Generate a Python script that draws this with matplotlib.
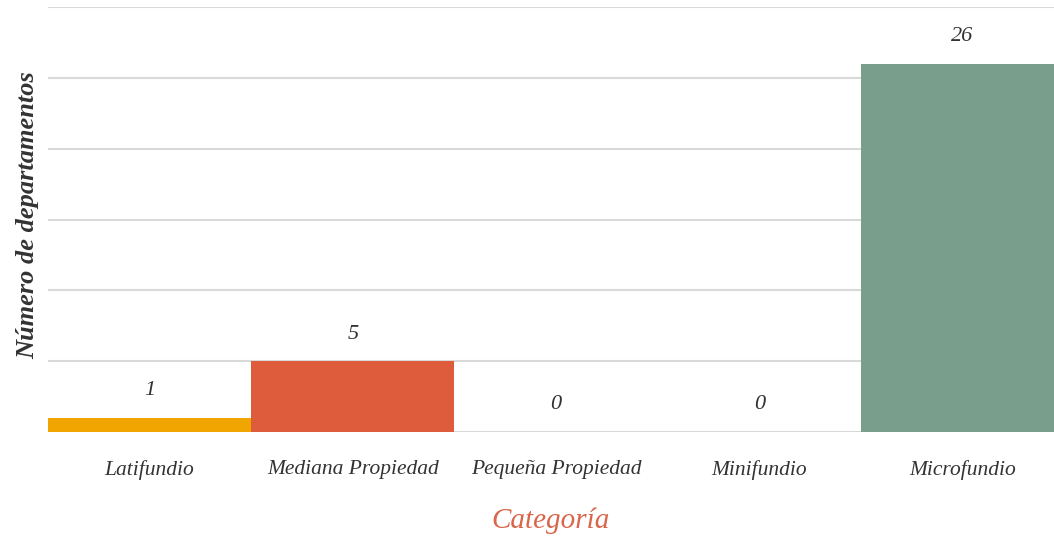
import matplotlib.pyplot as plt

categorias = ["Latifundio", "Mediana Propiedad", "Pequeña Propiedad", "Minifundio", "Microfundio"]
departamentos = [1, 5, 0, 0, 26]
colores = ["#F0A500", "#DE5B3B", "#E0E0E0", "#E0E0E0", "#7A9E8C"]

plt.rcParams["font.family"] = ["Liberation Serif", "DejaVu Serif"]

fig = plt.figure(figsize=(10.54, 5.40), dpi=100)
ax = fig.add_axes([48 / 1054, 1 - 432 / 540, 1006 / 1054, 425 / 540])

x = list(range(len(categorias)))
bars = ax.bar(x, departamentos, width=1.0, color=colores, zorder=2)

for xi, v in zip(x, departamentos):
    ax.annotate(str(v), (xi, v), xytext=(0, 19.5), textcoords="offset points",
                ha="center", va="center", fontsize=16, fontstyle="italic",
                color="#333333")

ax.set_xlim(-0.5, 4.45)
ax.set_ylim(0, 30)
ax.set_yticks([0, 5, 10, 15, 20, 25, 30])
ax.set_yticklabels([])
ax.tick_params(axis="y", length=0)
ax.tick_params(axis="x", length=0, pad=20)
ax.grid(axis="y", color="#D9D9D9", linewidth=1.5, zorder=0)
for s in ax.spines.values():
    s.set_visible(False)

ax.set_xticks(x)
ax.set_xticklabels(categorias, fontsize=15.5, fontstyle="italic", color="#333333")
ax.set_xlabel("Categoría", fontsize=21, fontstyle="italic", color="#D9654A", labelpad=20)
ax.set_ylabel("Número de departamentos", fontsize=19, fontstyle="italic",
              fontweight="bold", color="#333333")
ax.yaxis.set_label_coords(-0.009, 0.51)

fig.savefig("out.png", dpi=100)
